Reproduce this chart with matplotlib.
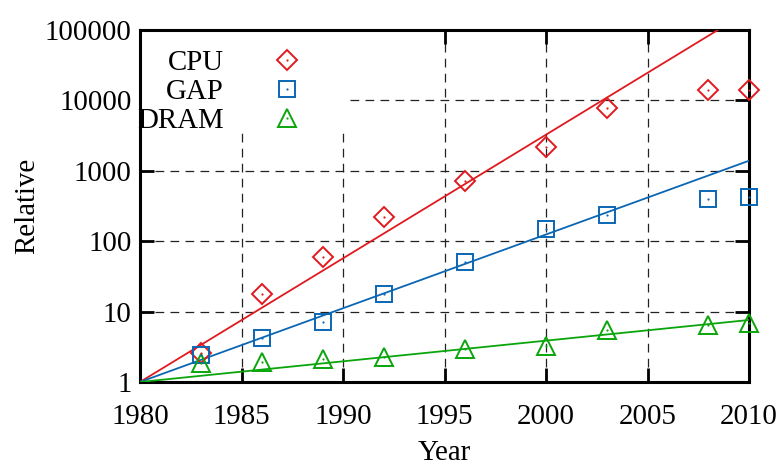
import matplotlib
matplotlib.use("Agg")
import matplotlib.pyplot as plt
from matplotlib.patches import Rectangle
from matplotlib.legend_handler import HandlerTuple
import numpy as np

plt.rcParams['font.family'] = ['Liberation Serif', 'DejaVu Serif']

years = [1983, 1986, 1989, 1992, 1996, 2000, 2003, 2008, 2010]
cpu = [2.6, 18, 60, 220, 720, 2200, 7800, 14000, 14000]
gap = [2.4, 4.2, 7.1, 18, 50, 150, 235, 400, 425]
dram = [1.85, 1.9, 2.1, 2.3, 2.9, 3.2, 5.4, 6.5, 6.9]

fit_years = [1980, 2010]
cpu_fit = [1, 186000]
gap_fit = [1, 1390]
dram_fit = [1, 7.6]

labels = ["CPU", "GAP", "DRAM"]
colors = ["#e0191f", "#0b66b3", "#0aa50a"]
markers = ["D", "s", "^"]
msizes = [10, 12, 13]

xticks = [1980, 1985, 1990, 1995, 2000, 2005, 2010]
yticks = [1, 10, 100, 1000, 10000, 100000]
ytick_labels = ["1", "10", "100", "1000", "10000", "100000"]

FS = 20.8

fig = plt.figure(figsize=(7.82, 4.68), dpi=100)
ax = fig.add_axes([140/782, (468-382)/468, 609/782, 352/468])
ax.set_yscale('log')
ax.set_xlim(1980, 2010)
ax.set_ylim(1, 100000)

ax.set_axisbelow(True)
ax.grid(True, which='major', color='#222222', linewidth=0.9, linestyle=(0, (7, 5)))
ax.minorticks_off()
ax.set_xticks(xticks)
ax.set_yticks(yticks)
ax.set_yticklabels(ytick_labels)
ax.tick_params(axis='both', which='major', direction='in', length=10, width=2,
               top=True, right=True, labelsize=FS)
ax.tick_params(axis='x', pad=16)
ax.tick_params(axis='y', pad=6)
for s in ax.spines.values():
    s.set_linewidth(2.2)

# opaque key area covering the grid
ax.add_patch(Rectangle((0, 0.71), 0.337, 0.29, transform=ax.transAxes,
                       facecolor='white', edgecolor='none', zorder=1))

series = [cpu, gap, dram]
fits = [cpu_fit, gap_fit, dram_fit]
handles = []
for vals, fit, c, m, ms in zip(series, fits, colors, markers, msizes):
    ax.plot(fit_years, fit, color=c, linewidth=1.3, zorder=3)
    h1, = ax.plot(years, vals, linestyle='none', marker=m, markersize=ms,
                  markerfacecolor='none', markeredgecolor=c, markeredgewidth=1.4,
                  zorder=4, clip_on=False)
    h2, = ax.plot(years, vals, linestyle='none', marker='o', markersize=1.6,
                  markerfacecolor=c, markeredgecolor=c, markeredgewidth=0,
                  zorder=5, clip_on=False)
    handles.append((h1, h2))

leg = ax.legend(handles, labels, handler_map={tuple: HandlerTuple(ndivide=1)},
                loc='upper left', bbox_to_anchor=(-0.005, 0.944), borderaxespad=0,
                borderpad=0, frameon=False, markerfirst=False, fontsize=FS,
                handlelength=1.8, handletextpad=1.3, labelspacing=0.1)
leg.set_zorder(6)

ax.set_xlabel("Year", fontsize=FS, labelpad=7)
ax.set_ylabel("Relative", fontsize=FS, labelpad=3)

fig.savefig("out.png", dpi=100)
